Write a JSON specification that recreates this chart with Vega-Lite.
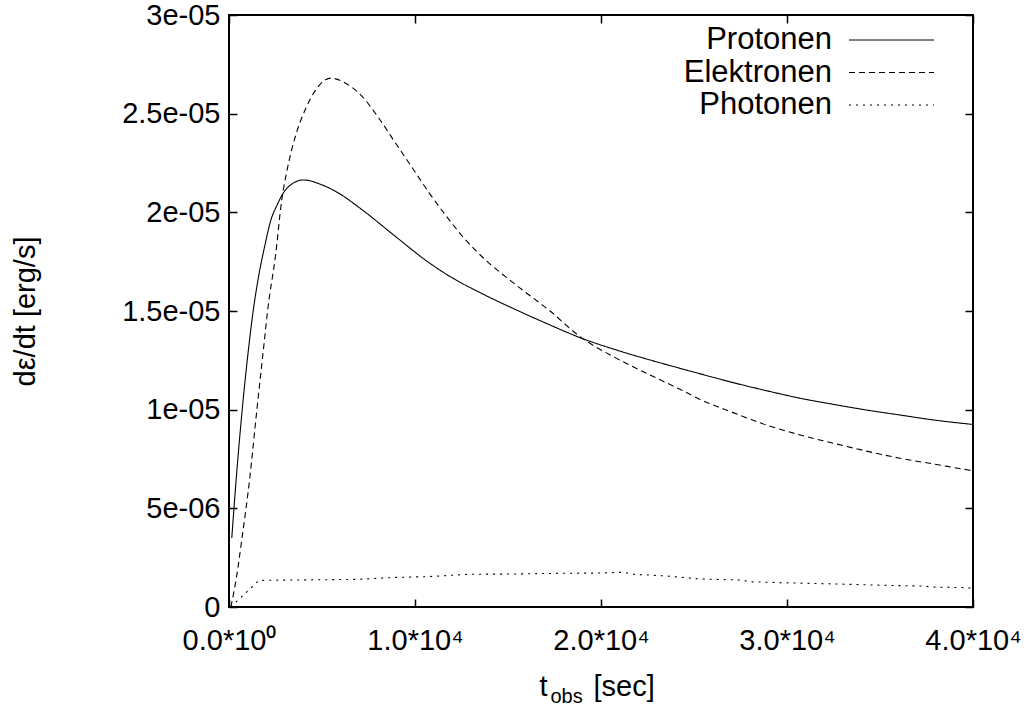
{
  "$schema": "https://vega.github.io/schema/vega-lite/v6.json",
  "width": 744,
  "height": 592,
  "autosize": {"type": "none"},
  "padding": {"left": 229, "top": 15, "right": 60, "bottom": 101},
  "background": "white",
  "config": {
    "font": "Liberation Sans",
    "view": {"stroke": "black", "strokeWidth": 2},
    "axis": {"grid": false, "domain": false, "tickColor": "black", "tickWidth": 1.5, "tickSize": -8, "labelColor": "black", "titleColor": "black", "titleFontWeight": "normal", "labelFont": "Liberation Sans", "titleFont": "Liberation Sans"},
    "legend": {"labelFont": "Liberation Sans"}
  },
  "datasets": {
    "curves": [
      {"series": "Protonen", "t": 150, "v": 3.5e-6},
      {"series": "Protonen", "t": 380, "v": 6.4e-6},
      {"series": "Protonen", "t": 700, "v": 9.9e-6},
      {"series": "Protonen", "t": 1040, "v": 1.30e-5},
      {"series": "Protonen", "t": 1300, "v": 1.50e-5},
      {"series": "Protonen", "t": 1600, "v": 1.68e-5},
      {"series": "Protonen", "t": 1900, "v": 1.82e-5},
      {"series": "Protonen", "t": 2250, "v": 1.96e-5},
      {"series": "Protonen", "t": 2600, "v": 2.04e-5},
      {"series": "Protonen", "t": 2867, "v": 2.09e-5},
      {"series": "Protonen", "t": 3400, "v": 2.145e-5},
      {"series": "Protonen", "t": 4000, "v": 2.164e-5},
      {"series": "Protonen", "t": 5000, "v": 2.139e-5},
      {"series": "Protonen", "t": 5900, "v": 2.097e-5},
      {"series": "Protonen", "t": 7170, "v": 2.012e-5},
      {"series": "Protonen", "t": 8960, "v": 1.877e-5},
      {"series": "Protonen", "t": 10750, "v": 1.745e-5},
      {"series": "Protonen", "t": 11880, "v": 1.675e-5},
      {"series": "Protonen", "t": 13670, "v": 1.585e-5},
      {"series": "Protonen", "t": 15460, "v": 1.505e-5},
      {"series": "Protonen", "t": 17260, "v": 1.429e-5},
      {"series": "Protonen", "t": 18870, "v": 1.365e-5},
      {"series": "Protonen", "t": 20840, "v": 1.302e-5},
      {"series": "Protonen", "t": 22630, "v": 1.252e-5},
      {"series": "Protonen", "t": 24420, "v": 1.205e-5},
      {"series": "Protonen", "t": 25320, "v": 1.182e-5},
      {"series": "Protonen", "t": 27110, "v": 1.137e-5},
      {"series": "Protonen", "t": 28900, "v": 1.096e-5},
      {"series": "Protonen", "t": 30700, "v": 1.058e-5},
      {"series": "Protonen", "t": 32490, "v": 1.027e-5},
      {"series": "Protonen", "t": 34280, "v": 9.98e-6},
      {"series": "Protonen", "t": 36070, "v": 9.73e-6},
      {"series": "Protonen", "t": 37860, "v": 9.48e-6},
      {"series": "Protonen", "t": 39800, "v": 9.27e-6},
      {"series": "Protonen", "t": 40000, "v": 9.25e-6},
      {"series": "Elektronen", "t": 100, "v": 0},
      {"series": "Elektronen", "t": 400, "v": 1.5e-6},
      {"series": "Elektronen", "t": 700, "v": 3.5e-6},
      {"series": "Elektronen", "t": 1100, "v": 6.4e-6},
      {"series": "Elektronen", "t": 1500, "v": 1.0e-5},
      {"series": "Elektronen", "t": 1845, "v": 1.30e-5},
      {"series": "Elektronen", "t": 2100, "v": 1.52e-5},
      {"series": "Elektronen", "t": 2500, "v": 1.78e-5},
      {"series": "Elektronen", "t": 2832, "v": 2.06e-5},
      {"series": "Elektronen", "t": 3136, "v": 2.22e-5},
      {"series": "Elektronen", "t": 3584, "v": 2.39e-5},
      {"series": "Elektronen", "t": 4120, "v": 2.525e-5},
      {"series": "Elektronen", "t": 4660, "v": 2.62e-5},
      {"series": "Elektronen", "t": 5470, "v": 2.68e-5},
      {"series": "Elektronen", "t": 6270, "v": 2.654e-5},
      {"series": "Elektronen", "t": 7170, "v": 2.586e-5},
      {"series": "Elektronen", "t": 8060, "v": 2.477e-5},
      {"series": "Elektronen", "t": 8960, "v": 2.35e-5},
      {"series": "Elektronen", "t": 9860, "v": 2.225e-5},
      {"series": "Elektronen", "t": 10750, "v": 2.1e-5},
      {"series": "Elektronen", "t": 11650, "v": 1.985e-5},
      {"series": "Elektronen", "t": 12540, "v": 1.88e-5},
      {"series": "Elektronen", "t": 13550, "v": 1.78e-5},
      {"series": "Elektronen", "t": 15460, "v": 1.63e-5},
      {"series": "Elektronen", "t": 17260, "v": 1.5e-5},
      {"series": "Elektronen", "t": 18870, "v": 1.37e-5},
      {"series": "Elektronen", "t": 20840, "v": 1.26e-5},
      {"series": "Elektronen", "t": 22630, "v": 1.176e-5},
      {"series": "Elektronen", "t": 24420, "v": 1.095e-5},
      {"series": "Elektronen", "t": 25320, "v": 1.052e-5},
      {"series": "Elektronen", "t": 27110, "v": 9.85e-6},
      {"series": "Elektronen", "t": 28900, "v": 9.22e-6},
      {"series": "Elektronen", "t": 30700, "v": 8.72e-6},
      {"series": "Elektronen", "t": 32490, "v": 8.3e-6},
      {"series": "Elektronen", "t": 34280, "v": 7.9e-6},
      {"series": "Elektronen", "t": 36070, "v": 7.54e-6},
      {"series": "Elektronen", "t": 37860, "v": 7.25e-6},
      {"series": "Elektronen", "t": 39750, "v": 6.94e-6},
      {"series": "Elektronen", "t": 40000, "v": 6.9e-6},
      {"series": "Photonen", "t": 100, "v": 0},
      {"series": "Photonen", "t": 1610, "v": 1.35e-6},
      {"series": "Photonen", "t": 6900, "v": 1.40e-6},
      {"series": "Photonen", "t": 8960, "v": 1.5e-6},
      {"series": "Photonen", "t": 10750, "v": 1.54e-6},
      {"series": "Photonen", "t": 12900, "v": 1.66e-6},
      {"series": "Photonen", "t": 15230, "v": 1.67e-6},
      {"series": "Photonen", "t": 17920, "v": 1.71e-6},
      {"series": "Photonen", "t": 19900, "v": 1.72e-6},
      {"series": "Photonen", "t": 21200, "v": 1.76e-6},
      {"series": "Photonen", "t": 21730, "v": 1.66e-6},
      {"series": "Photonen", "t": 23530, "v": 1.57e-6},
      {"series": "Photonen", "t": 25320, "v": 1.42e-6},
      {"series": "Photonen", "t": 27470, "v": 1.37e-6},
      {"series": "Photonen", "t": 28010, "v": 1.28e-6},
      {"series": "Photonen", "t": 29800, "v": 1.23e-6},
      {"series": "Photonen", "t": 32490, "v": 1.17e-6},
      {"series": "Photonen", "t": 35180, "v": 1.10e-6},
      {"series": "Photonen", "t": 37330, "v": 1.06e-6},
      {"series": "Photonen", "t": 37860, "v": 1.01e-6},
      {"series": "Photonen", "t": 39650, "v": 0.98e-6},
      {"series": "Photonen", "t": 40000, "v": 0.95e-6}
    ]
  },
  "data": {"name": "curves"},
  "resolve": {"axis": {"x": "independent", "y": "independent"}},
  "layer": [
    {
      "transform": [{"filter": "datum.series === 'Protonen'"}],
      "mark": {"type": "line", "stroke": "black", "strokeWidth": 1.1, "interpolate": "monotone"},
      "encoding": {
        "x": {"field": "t", "type": "quantitative", "scale": {"domain": [0, 40000], "nice": false, "zero": true},
          "axis": {"orient": "bottom", "values": [0, 10000, 20000, 30000, 40000],
            "labelExpr": "['0.0*10⁰','1.0*10⁴','2.0*10⁴','3.0*10⁴','4.0*10⁴'][round(datum.value/10000)]",
            "labelFontSize": 29, "labelPadding": 27, "labelFlush": false,
            "title": "t", "titleFontSize": 29, "titleX": 310, "titleY": 88, "titleAlign": "left", "titleBaseline": "alphabetic"}},
        "y": {"field": "v", "type": "quantitative", "scale": {"domain": [0, 3e-5], "nice": false, "zero": true},
          "axis": {"orient": "left", "values": [0, 5e-6, 1e-5, 1.5e-5, 2e-5, 2.5e-5, 3e-5],
            "labelExpr": "['0','5e-06','1e-05','1.5e-05','2e-05','2.5e-05','3e-05'][round(datum.value/5e-6)]",
            "labelFontSize": 29, "labelPadding": 17, "labelFlush": false,
            "title": "dε/dt [erg/s]", "titleFontSize": 29, "titleX": -195, "titleY": 296, "titleAngle": 270, "titleAlign": "center", "titleBaseline": "alphabetic"}},
        "strokeDash": {"field": "series", "type": "nominal",
          "scale": {"domain": ["Protonen", "Elektronen", "Photonen"], "range": [[1, 0], [6, 4], [2, 5]]},
          "legend": {"orient": "none", "legendX": 647, "legendY": 9.5, "title": null, "padding": 0,
            "symbolType": "M-4,0L4,0", "symbolSize": 452, "symbolStrokeWidth": 1, "symbolStrokeColor": "black", "symbolFillColor": "transparent",
            "labelAlign": "right", "labelOffset": -75, "labelFontSize": 31, "labelColor": "black", "labelLimit": 0, "rowPadding": 0.5}}
      }
    },
    {
      "transform": [{"filter": "datum.series === 'Elektronen'"}],
      "mark": {"type": "line", "stroke": "black", "strokeWidth": 1.1, "interpolate": "monotone"},
      "encoding": {
        "x": {"field": "t", "type": "quantitative",
          "axis": {"orient": "top", "values": [0, 10000, 20000, 30000, 40000], "labels": false,
            "title": "[sec]", "titleFontSize": 29, "titleX": 364, "titleY": 680, "titleAlign": "left", "titleBaseline": "alphabetic"}},
        "y": {"field": "v", "type": "quantitative",
          "axis": {"orient": "right", "values": [0, 5e-6, 1e-5, 1.5e-5, 2e-5, 2.5e-5, 3e-5], "labels": false, "title": null}},
        "strokeDash": {"field": "series", "type": "nominal"}
      }
    },
    {
      "transform": [{"filter": "datum.series === 'Photonen'"}],
      "mark": {"type": "line", "stroke": "black", "strokeWidth": 1.1},
      "encoding": {
        "x": {"field": "t", "type": "quantitative",
          "axis": {"orient": "bottom", "ticks": false, "labels": false,
            "title": "obs", "titleFontSize": 20, "titleX": 321, "titleY": 95, "titleAlign": "left", "titleBaseline": "alphabetic"}},
        "y": {"field": "v", "type": "quantitative", "axis": null},
        "strokeDash": {"field": "series", "type": "nominal"}
      }
    }
  ]
}
